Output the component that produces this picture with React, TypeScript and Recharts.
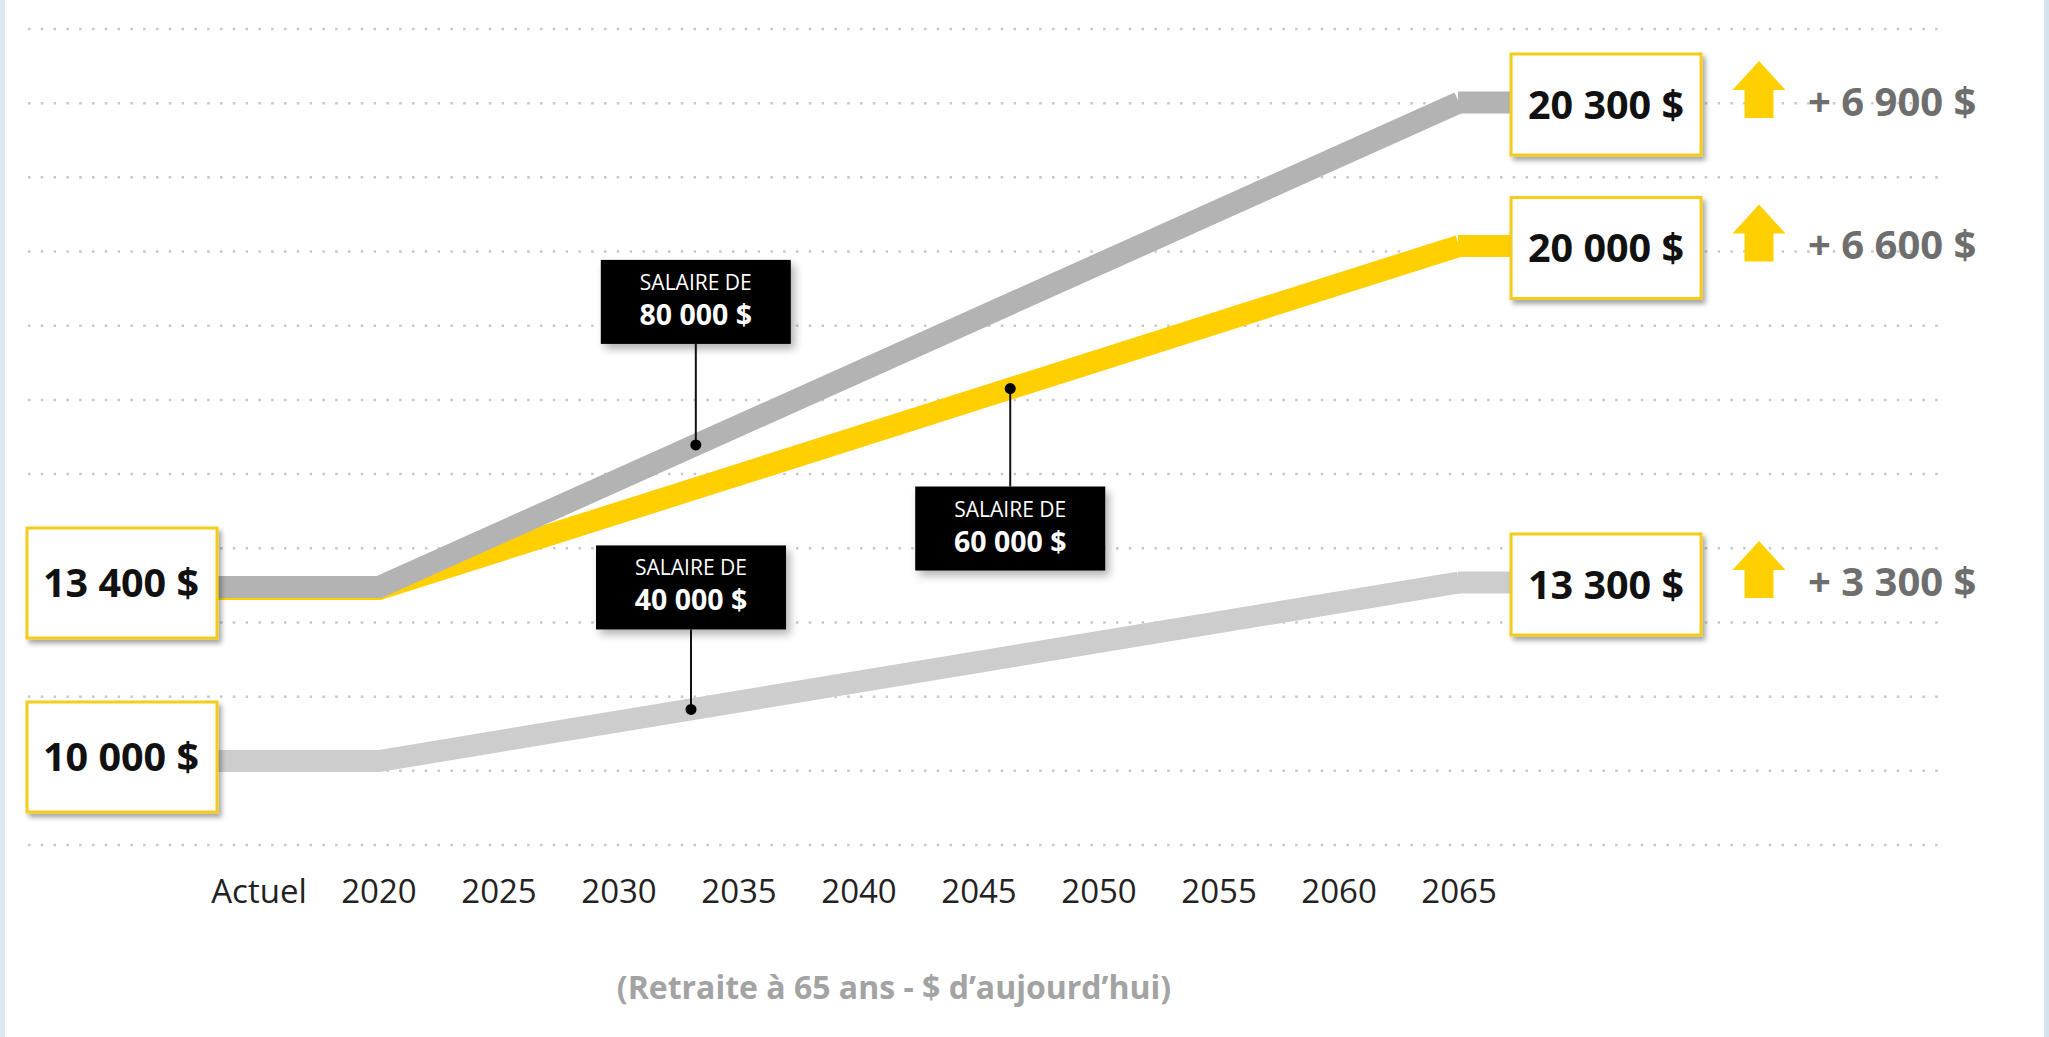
import React from 'react';
import { LineChart, Line, XAxis, YAxis, ReferenceLine, ReferenceDot } from 'recharts';

// 2015 is drawn as "Actuel" on the x axis
const years = [2015, 2020, 2065];
const salary80k = [13400, 13400, 20300];
const salary60k = [13400, 13400, 20000];
const salary40k = [10000, 10000, 13300];

const yearTicks = [2015, 2020, 2025, 2030, 2035, 2040, 2045, 2050, 2055, 2060, 2065];
const gridRows = [0, 1, 2, 3, 4, 5, 6, 7, 8, 9, 10, 11];

const calloutYears = [2033, 2046.3, 2033.2];
const calloutAmounts = ['40 000 $', '60 000 $', '80 000 $'];

const data = years.map((year, i) => ({
    year,
    s80: salary80k[i],
    s60: salary60k[i],
    s40: salary40k[i],
}));

const YELLOW = '#ffcf00';
const BORDER = '#f4cc1c';
const FONT = '"Open Sans", "Noto Sans", sans-serif';

// the graphic is not drawn to one scale, so each salary line gets its own axis
const series = [
    { key: 's40', axis: 'a40', values: salary40k, color: '#cdcdcd', domain: [8447, 23533], side: -1, gap: 80, leftBox: true },
    { key: 's60', axis: 'a60', values: salary60k, color: YELLOW, domain: [8474, 24175], side: 1, gap: 98, leftBox: false },
    { key: 's80', axis: 'a80', values: salary80k, color: '#b3b3b3', domain: [9726, 21347], side: -1, gap: 101, leftBox: true },
];

const money = (v: number) => String(v).replace(/\B(?=(\d{3})+(?!\d))/g, ' ') + ' $';

const valueAt = (values: number[], year: number) => {
    for (let i = 0; i < years.length - 1; i++) {
        if (year >= years[i] && year <= years[i + 1]) {
            const t = (year - years[i]) / (years[i + 1] - years[i]);
            return values[i] + t * (values[i + 1] - values[i]);
        }
    }
    return values[values.length - 1];
};

const LeftAnchor = (props: any) => {
    const { cx, cy, color, value, showBox } = props;
    return (
        <g>
            <line x1={cx - 44} x2={cx + 1} y1={cy} y2={cy} stroke={color} strokeWidth={22} />
            {showBox && (
                <g>
                    <rect x={cx - 232} y={cy - 59} width={190} height={110} fill="#fff" stroke={BORDER} strokeWidth={3} filter="url(#boxShadow)" />
                    <text x={cx - 138} y={cy + 10} textAnchor="middle" fontFamily={FONT} fontWeight={700} fontSize={39.5} fill="#111">
                        {money(value)}
                    </text>
                </g>
            )}
        </g>
    );
};

const RightAnchor = (props: any) => {
    const { cx, cy, color, value, gain } = props;
    const bc = cy + 2;
    const ax = cx + 300;
    const arrow = [
        [ax, bc - 43.5],
        [ax + 26.5, bc - 14.5],
        [ax + 14.5, bc - 14.5],
        [ax + 14.5, bc + 13.5],
        [ax - 14.5, bc + 13.5],
        [ax - 14.5, bc - 14.5],
        [ax - 26.5, bc - 14.5],
    ].map((p) => p.join(',')).join(' ');
    return (
        <g>
            <line x1={cx - 1} x2={cx + 54} y1={cy} y2={cy} stroke={color} strokeWidth={22} />
            <rect x={cx + 52} y={bc - 50.5} width={190} height={101} fill="#fff" stroke={BORDER} strokeWidth={3} filter="url(#boxShadow)" />
            <text x={cx + 147} y={bc + 14} textAnchor="middle" fontFamily={FONT} fontWeight={700} fontSize={39.5} fill="#111">
                {money(value)}
            </text>
            <polygon points={arrow} fill={YELLOW} />
            <text x={cx + 349} y={bc + 11} fontFamily={FONT} fontWeight={700} fontSize={40} fill="#6e6e6e">
                {'+ ' + money(gain)}
            </text>
        </g>
    );
};

const Callout = (props: any) => {
    const { cx, cy, side, gap, amount } = props;
    const h = 84;
    const top = side < 0 ? cy - gap - h : cy + gap;
    const edge = side < 0 ? top + h : top;
    return (
        <g>
            <line x1={cx} x2={cx} y1={cy} y2={edge} stroke="#111" strokeWidth={2} />
            <rect x={cx - 95} y={top} width={190} height={h} fill="#000" filter="url(#calloutShadow)" />
            <text x={cx} y={top + 30} textAnchor="middle" fontFamily={FONT} fontSize={21} fill="#fff">
                SALAIRE DE
            </text>
            <text x={cx} y={top + 65} textAnchor="middle" fontFamily={FONT} fontWeight={700} fontSize={28.5} fill="#fff">
                {amount}
            </text>
            <circle cx={cx} cy={cy} r={5.5} fill="#000" />
        </g>
    );
};

export default function App() {
    const last = years.length - 1;
    const leftOrder = [series[1], series[2], series[0]];
    return (
        <div style={{ position: 'absolute', left: 0, top: 0, width: 2049, height: 1037, background: '#fff', overflow: 'hidden' }}>
            <div style={{ position: 'absolute', left: 0, top: 0, width: 5, height: 1037, background: '#dde8ee' }} />
            <div style={{ position: 'absolute', right: 0, top: 0, width: 5, height: 1037, background: '#d5e4ec' }} />
            <LineChart width={2049} height={1037} data={data} margin={{ top: 29, right: 103, left: 28, bottom: 132 }}>
                <defs>
                    <filter id="boxShadow" x="-10%" y="-10%" width="130%" height="130%">
                        <feDropShadow dx={3} dy={4} stdDeviation={2.5} floodColor="#000" floodOpacity={0.35} />
                    </filter>
                    <filter id="calloutShadow" x="-15%" y="-15%" width="140%" height="150%">
                        <feDropShadow dx={4} dy={5} stdDeviation={4} floodColor="#000" floodOpacity={0.3} />
                    </filter>
                </defs>
                <XAxis
                    dataKey="year"
                    type="number"
                    domain={[2005.375, 2085.29]}
                    allowDataOverflow
                    ticks={yearTicks}
                    interval={0}
                    tickFormatter={(v) => (v === 2015 ? 'Actuel' : String(v))}
                    axisLine={false}
                    tickLine={false}
                    tickSize={0}
                    tickMargin={35}
                    height={60}
                    tick={{ fill: '#222', fontSize: 33, fontFamily: FONT }}
                />
                <YAxis yAxisId="grid" hide domain={[0, 11]} allowDataOverflow />
                {series.map((s) => (
                    <YAxis key={s.axis} yAxisId={s.axis} hide domain={s.domain} allowDataOverflow />
                ))}
                {gridRows.map((r) => (
                    <ReferenceLine key={r} yAxisId="grid" y={r} stroke="#c8c8c8" strokeWidth={2.5} strokeDasharray="2.5 10.3" />
                ))}
                {series.map((s) => (
                    <Line
                        key={s.key}
                        yAxisId={s.axis}
                        dataKey={s.key}
                        stroke={s.color}
                        strokeWidth={22}
                        strokeLinejoin="miter"
                        dot={false}
                        activeDot={false}
                        isAnimationActive={false}
                    />
                ))}
                {leftOrder.map((s) => (
                    <ReferenceDot
                        key={'l' + s.key}
                        yAxisId={s.axis}
                        x={years[0]}
                        y={s.values[0]}
                        shape={(p: any) => <LeftAnchor {...p} color={s.color} value={s.values[0]} showBox={s.leftBox} />}
                    />
                ))}
                {series.map((s) => (
                    <ReferenceDot
                        key={'r' + s.key}
                        yAxisId={s.axis}
                        x={years[last]}
                        y={s.values[last]}
                        shape={(p: any) => <RightAnchor {...p} color={s.color} value={s.values[last]} gain={s.values[last] - s.values[0]} />}
                    />
                ))}
                {series.map((s, i) => (
                    <ReferenceDot
                        key={'c' + s.key}
                        yAxisId={s.axis}
                        x={calloutYears[i]}
                        y={valueAt(s.values, calloutYears[i])}
                        shape={(p: any) => <Callout {...p} side={s.side} gap={s.gap} amount={calloutAmounts[i]} />}
                    />
                ))}
            </LineChart>
            <div
                style={{
                    position: 'absolute',
                    left: 894,
                    top: 967,
                    transform: 'translateX(-50%)',
                    whiteSpace: 'nowrap',
                    fontFamily: FONT,
                    fontWeight: 700,
                    fontSize: 32,
                    lineHeight: '40px',
                    color: '#a3a3a3',
                }}
            >
                (Retraite à 65 ans - $ d’aujourd’hui)
            </div>
        </div>
    );
}
